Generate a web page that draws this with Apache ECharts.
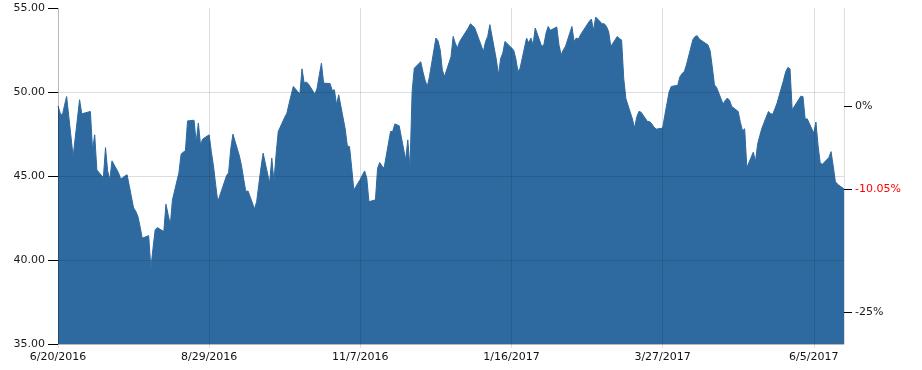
<!DOCTYPE html>
<html>
<head>
<meta charset="utf-8">
<script src="https://cdn.jsdelivr.net/npm/echarts@6/dist/echarts.min.js"></script>
<style>
  html, body { margin: 0; padding: 0; background: #fff; }
  #chart { width: 922px; height: 370px; }
</style>
</head>
<body>
<div id="chart"></div>
<script>
const dates = [
  '2016-06-20','2016-06-21','2016-06-22','2016-06-23','2016-06-24','2016-06-27','2016-06-30','2016-07-01','2016-07-05','2016-07-06',
  '2016-07-07','2016-07-08','2016-07-11','2016-07-12','2016-07-13','2016-07-14','2016-07-15','2016-07-18','2016-07-19','2016-07-20',
  '2016-07-21','2016-07-22','2016-07-25','2016-07-26','2016-07-27','2016-07-28','2016-07-29','2016-08-01','2016-08-02','2016-08-03',
  '2016-08-04','2016-08-05','2016-08-08','2016-08-09','2016-08-10','2016-08-11','2016-08-12','2016-08-15','2016-08-16','2016-08-17',
  '2016-08-18','2016-08-19','2016-08-22','2016-08-23','2016-08-24','2016-08-25','2016-08-26','2016-08-29','2016-08-30','2016-08-31',
  '2016-09-01','2016-09-02','2016-09-06','2016-09-07','2016-09-08','2016-09-09','2016-09-12','2016-09-13','2016-09-14','2016-09-15',
  '2016-09-16','2016-09-19','2016-09-20','2016-09-21','2016-09-22','2016-09-23','2016-09-26','2016-09-27','2016-09-28','2016-09-29',
  '2016-09-30','2016-10-03','2016-10-04','2016-10-05','2016-10-06','2016-10-07','2016-10-10','2016-10-11','2016-10-12','2016-10-13',
  '2016-10-14','2016-10-17','2016-10-18','2016-10-19','2016-10-20','2016-10-21','2016-10-24','2016-10-25','2016-10-26','2016-10-27',
  '2016-10-28','2016-10-31','2016-11-01','2016-11-02','2016-11-03','2016-11-04','2016-11-07','2016-11-08','2016-11-09','2016-11-10',
  '2016-11-11','2016-11-14','2016-11-15','2016-11-16','2016-11-17','2016-11-18','2016-11-21','2016-11-22','2016-11-23','2016-11-25',
  '2016-11-28','2016-11-29','2016-11-30','2016-12-01','2016-12-02','2016-12-05','2016-12-06','2016-12-07','2016-12-08','2016-12-09',
  '2016-12-12','2016-12-13','2016-12-14','2016-12-15','2016-12-16','2016-12-19','2016-12-20','2016-12-21','2016-12-22','2016-12-23',
  '2016-12-27','2016-12-28','2016-12-29','2016-12-30','2017-01-03','2017-01-04','2017-01-05','2017-01-06','2017-01-09','2017-01-10',
  '2017-01-11','2017-01-12','2017-01-13','2017-01-17','2017-01-18','2017-01-19','2017-01-20','2017-01-23','2017-01-24','2017-01-25',
  '2017-01-26','2017-01-27','2017-01-30','2017-01-31','2017-02-01','2017-02-02','2017-02-03','2017-02-06','2017-02-07','2017-02-08',
  '2017-02-09','2017-02-10','2017-02-13','2017-02-14','2017-02-15','2017-02-16','2017-02-17','2017-02-21','2017-02-22','2017-02-23',
  '2017-02-24','2017-02-27','2017-02-28','2017-03-01','2017-03-02','2017-03-03','2017-03-06','2017-03-07','2017-03-08','2017-03-09',
  '2017-03-10','2017-03-13','2017-03-14','2017-03-15','2017-03-16','2017-03-17','2017-03-20','2017-03-21','2017-03-22','2017-03-23',
  '2017-03-24','2017-03-27','2017-03-28','2017-03-29','2017-03-30','2017-03-31','2017-04-03','2017-04-04','2017-04-05','2017-04-06',
  '2017-04-07','2017-04-10','2017-04-11','2017-04-12','2017-04-13','2017-04-17','2017-04-18','2017-04-19','2017-04-20','2017-04-21',
  '2017-04-24','2017-04-25','2017-04-26','2017-04-27','2017-04-28','2017-05-01','2017-05-02','2017-05-03','2017-05-04','2017-05-05',
  '2017-05-08','2017-05-09','2017-05-10','2017-05-11','2017-05-12','2017-05-15','2017-05-16','2017-05-17','2017-05-18','2017-05-19',
  '2017-05-22','2017-05-23','2017-05-24','2017-05-25','2017-05-26','2017-05-30','2017-05-31','2017-06-01','2017-06-02','2017-06-05',
  '2017-06-06','2017-06-07','2017-06-08','2017-06-09','2017-06-12','2017-06-13','2017-06-14','2017-06-15','2017-06-16','2017-06-19'
];
const prices = [
  49.17,48.74,48.60,49.20,49.73,46.16,49.54,48.70,48.84,46.56,
  47.45,45.36,44.90,46.69,45.30,44.77,45.90,45.20,44.83,44.90,
  45.00,45.07,43.10,42.90,42.60,42.00,41.30,41.45,39.50,40.70,
  41.80,41.93,41.69,43.32,42.70,42.10,43.58,45.20,46.30,46.42,
  46.50,48.28,48.32,47.01,48.15,46.85,47.20,47.45,46.45,45.60,
  44.50,43.47,45.00,45.20,46.60,47.49,46.20,45.60,44.80,44.07,
  44.11,43.04,43.47,44.50,45.50,46.36,44.57,46.06,44.67,46.30,
  47.65,48.50,48.74,49.30,49.83,50.33,49.87,51.38,50.53,50.60,
  50.47,49.87,50.23,51.00,51.72,50.53,50.50,50.09,50.13,49.24,
  49.83,47.80,46.79,46.75,45.50,44.17,44.80,45.07,45.30,44.87,
  43.47,43.58,45.46,45.80,45.60,45.46,47.65,47.65,48.10,47.99,
  45.96,47.15,45.46,50.03,51.42,51.80,51.20,50.70,50.33,50.90,
  53.21,53.05,52.50,51.30,50.92,52.10,53.31,52.90,52.62,53.00,
  53.81,54.06,53.95,53.81,52.41,53.00,53.31,54.01,51.92,51.03,
  52.00,52.32,53.01,52.50,52.00,51.22,51.42,53.21,52.91,53.21,
  52.81,53.81,52.71,52.81,53.50,53.90,53.67,53.87,52.80,52.22,
  52.50,52.71,53.90,53.01,53.21,53.15,53.41,54.20,54.34,53.67,
  54.46,54.06,54.06,53.90,53.60,52.71,53.30,53.18,53.10,50.80,
  49.60,48.40,47.85,48.50,48.84,48.80,48.24,48.24,48.10,47.90,
  47.79,47.85,48.60,49.30,50.00,50.33,50.40,50.90,51.10,51.20,
  51.60,53.11,53.30,53.35,53.15,52.80,52.45,51.50,50.43,50.27,
  49.28,49.50,49.64,49.50,49.14,48.84,48.20,47.69,47.81,45.50,
  46.42,45.86,46.90,47.40,47.85,48.84,48.70,48.68,49.00,49.34,
  50.70,51.20,51.46,51.38,48.94,49.75,49.73,48.40,48.40,47.55,
  48.21,46.80,45.76,45.70,46.10,46.45,45.60,44.67,44.51,44.23
];
// left axis tick labels (price) and right axis tick labels (% change from first close)
const priceTicks = [35, 40, 45, 50, 55];
const pctTicks = [0, -10.05, -25];
const highlightPct = -10.05;

const startDate = dates[0];
const endDate = dates[dates.length - 1];
const DAY = 864e5;
const t0 = Date.parse(startDate + 'T00:00:00Z');
const dayOf = s => Math.round((Date.parse(s + 'T00:00:00Z') - t0) / DAY);
const fmtDate = v => {
  const d = new Date(t0 + v * DAY);
  return (d.getUTCMonth() + 1) + '/' + d.getUTCDate() + '/' + d.getUTCFullYear();
};
const base = prices[0];
const pctValues = pctTicks.map(p => base * (1 + p / 100));

const font = 'DejaVu Sans';
const gridCol = 'rgba(0,0,0,0.13)';
const blue = '#2e6a9f';

const chart = echarts.init(document.getElementById('chart'), null, { renderer: 'canvas' });
chart.setOption({
  animation: false,
  backgroundColor: '#fff',
  grid: { left: 58, right: 78, top: 8, bottom: 26, containLabel: false },
  xAxis: {
    type: 'value',
    min: 0,
    max: dayOf(endDate),
    interval: 70,
    z: 3,
    axisLine: { show: true, lineStyle: { color: 'rgba(0,0,0,0.16)', width: 1 } },
    axisTick: { show: true, length: 4, lineStyle: { color: gridCol } },
    splitLine: { show: true, lineStyle: { color: gridCol, width: 1 } },
    axisLabel: {
      fontFamily: font, fontSize: 11, color: '#111', margin: 8,
      showMaxLabel: false, showMinLabel: true,
      formatter: v => fmtDate(v)
    }
  },
  yAxis: [
    {
      type: 'value',
      min: priceTicks[0],
      max: priceTicks[priceTicks.length - 1],
      interval: priceTicks[1] - priceTicks[0],
      z: 3,
      axisLine: { show: true, lineStyle: { color: 'rgba(0,0,0,0.16)' } },
      axisTick: { show: true, length: 10, lineStyle: { color: '#000' } },
      splitLine: { show: true, lineStyle: { color: [gridCol, gridCol, gridCol, gridCol, 'rgba(0,0,0,0)'] } },
      axisLabel: { fontFamily: font, fontSize: 11, color: '#1a1a1a', margin: 13, formatter: v => v.toFixed(2) }
    },
    {
      type: 'value',
      position: 'right',
      min: priceTicks[0],
      max: priceTicks[priceTicks.length - 1],
      z: 3,
      axisLine: { show: false },
      splitLine: { show: false },
      axisTick: { show: true, length: 8, customValues: pctValues, lineStyle: { color: '#000' } },
      axisLabel: {
        customValues: pctValues,
        fontFamily: font, fontSize: 11, color: '#1a1a1a', margin: 11,
        formatter: v => {
          let idx = 0, best = Infinity;
          pctValues.forEach((pv, i) => { const d = Math.abs(pv - v); if (d < best) { best = d; idx = i; } });
          const p = pctTicks[idx];
          const txt = (Number.isInteger(p) ? String(p) : p.toFixed(2)) + '%';
          return p === highlightPct ? '{red|' + txt + '}' : txt;
        },
        rich: { red: { color: '#ff0000', fontFamily: font, fontSize: 11 } }
      }
    }
  ],
  series: [{
    type: 'line',
    yAxisIndex: 0,
    data: dates.map((d, i) => [dayOf(d), prices[i]]),
    showSymbol: false,
    symbol: 'none',
    silent: true,
    z: 2,
    lineStyle: { color: blue, width: 1 },
    itemStyle: { color: blue },
    areaStyle: { color: blue, opacity: 1, origin: 'start' }
  }]
});
</script>
</body>
</html>
